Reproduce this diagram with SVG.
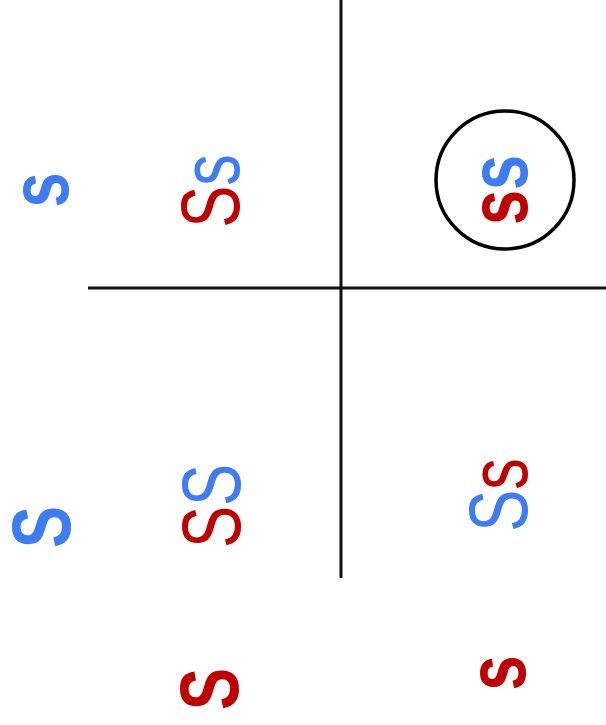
<svg xmlns="http://www.w3.org/2000/svg" width="606" height="725" viewBox="0 0 606 725">
<style>
text{font-family:"Liberation Sans",Arial,sans-serif;font-size:84px;text-anchor:middle}
.b{fill:#3d7cf4}
.r{fill:#c00000}
.bold{font-weight:bold}
.ln{stroke:#111;stroke-width:3;fill:none}
</style>
<rect width="606" height="725" fill="#fff"/>
<g id="connectors">
<line class="ln" x1="341" y1="0" x2="341" y2="578"/>
<line class="ln" x1="88" y1="288" x2="606" y2="288"/>
</g>
<g id="header-s"><text class="b bold" transform="translate(68,190) rotate(-90) scale(0.75,1)">s</text></g>
<g id="header-S"><text class="b bold" transform="translate(70,527) rotate(-90) scale(0.75,1)">S</text></g>
<g id="header-bottom-S"><text class="r bold" transform="translate(238,689) rotate(-90) scale(0.75,1)">S</text></g>
<g id="header-bottom-s"><text class="r bold" transform="translate(525,673) rotate(-90) scale(0.75,1)">s</text></g>
<g id="cell-Ss-1"><text transform="translate(239,191) rotate(-90) scale(0.75,1)"><tspan class="r">S</tspan><tspan class="b">s</tspan></text></g>
<g id="cell-ss"><circle cx="505" cy="180" r="69" fill="none" stroke="#000" stroke-width="3.5"/><text class="bold" transform="translate(527,190) rotate(-90) scale(0.75,1)"><tspan class="r">s</tspan><tspan class="b">s</tspan></text></g>
<g id="cell-SS"><text transform="translate(240,506) rotate(-90) scale(0.75,1)"><tspan class="r">S</tspan><tspan class="b">S</tspan></text></g>
<g id="cell-Ss-2"><text transform="translate(527,495) rotate(-90) scale(0.75,1)"><tspan class="b">S</tspan><tspan class="r">s</tspan></text></g>
</svg>
